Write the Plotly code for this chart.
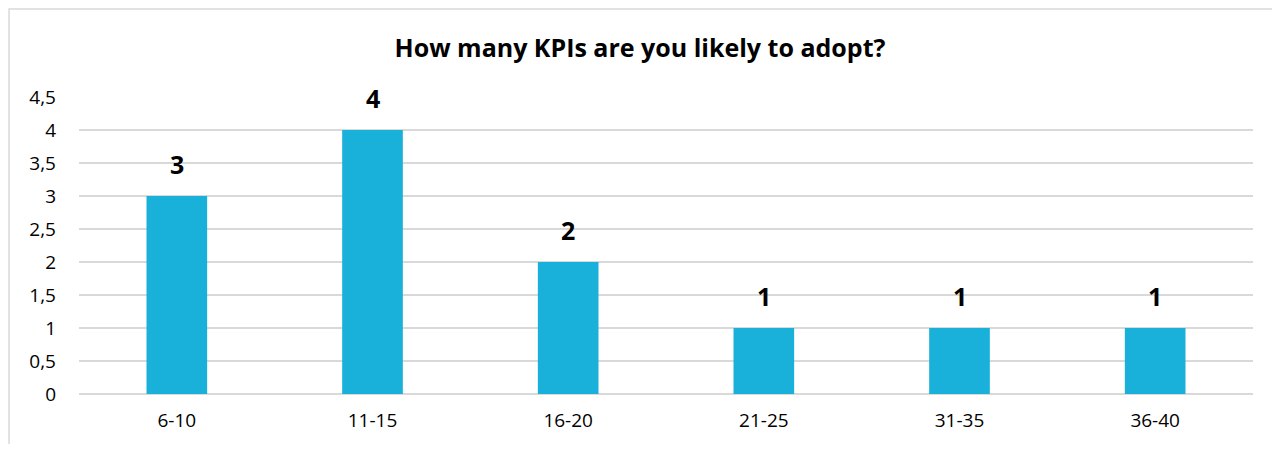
import plotly.graph_objects as go

categories = ["6-10", "11-15", "16-20", "21-25", "31-35", "36-40"]
counts = [3, 4, 2, 1, 1, 1]
y_ticks = [0, 0.5, 1, 1.5, 2, 2.5, 3, 3.5, 4, 4.5]

FONT = "Open Sans, sans-serif"
BAR_COLOR = "#19b1d9"
GRID = "#d9d9d9"

fig = go.Figure(go.Bar(
    x=categories, y=counts,
    marker=dict(color=BAR_COLOR, line_width=0),
    width=0.31,
    hoverinfo="x+y",
))

# bold value labels above bars, Excel style
for c, v in zip(categories, counts):
    fig.add_annotation(
        x=c, y=v, text=f"<b>{v}</b>", showarrow=False,
        yanchor="bottom", yshift=13,
        font=dict(size=25, color="#000000", family=FONT),
    )

# light chart-area border (left/top visible in reference)
fig.add_shape(type="rect", xref="paper", yref="paper",
              x0=-0.0596, x1=1.04, y0=-0.4, y1=1.296,
              line=dict(color=GRID, width=1.5), layer="below")

# page body has an 8px margin, so the figure is sized/offset to fit
fig.update_layout(
    width=1264, height=436,
    margin=dict(l=71, r=19, t=89, b=50),
    paper_bgcolor="white", plot_bgcolor="white",
    separators=", ",
    font=dict(family=FONT, size=19, color="#000000"),
    title=dict(text="<b>How many KPIs are you likely to adopt?</b>",
               x=0.5, xanchor="center", xref="container", y=0.908, yanchor="middle",
               font=dict(size=25, family=FONT, color="#000000")),
    showlegend=False,
    bargap=0.69,
)
fig.update_xaxes(showgrid=False, showline=False, ticks="", ticklabelstandoff=13,
                 tickfont=dict(size=19))
fig.update_yaxes(range=[0, 4.5], tickvals=y_ticks, showgrid=True, gridcolor=GRID,
                 gridwidth=1.5, zeroline=True, zerolinecolor=GRID, zerolinewidth=1.5,
                 showline=False, ticks="", ticklabelstandoff=22, tickfont=dict(size=19))

fig.write_html("out.html")
